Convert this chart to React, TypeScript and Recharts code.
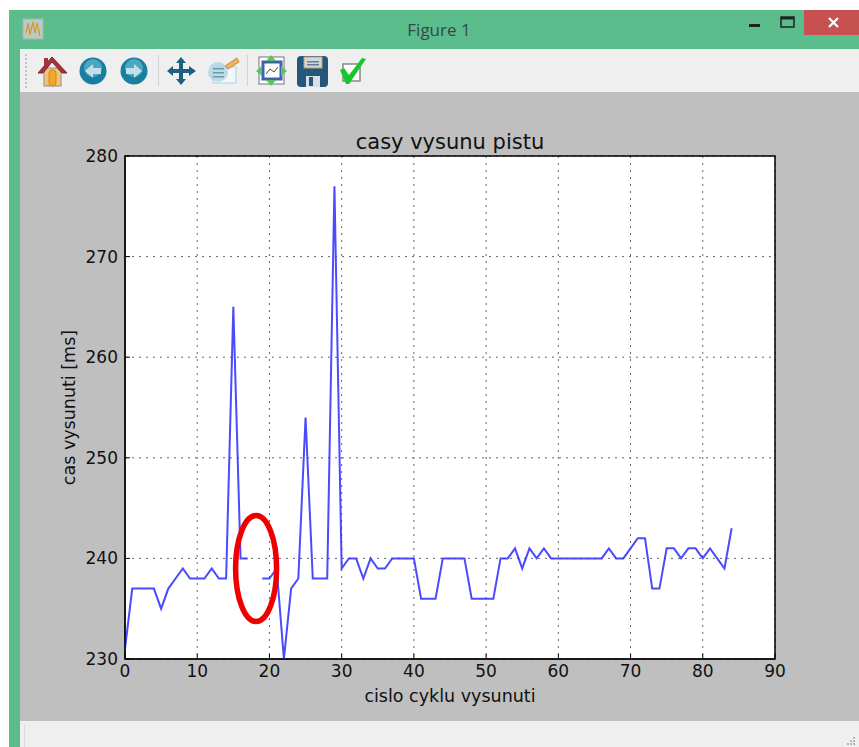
import { CartesianGrid, Label, Line, LineChart, ReferenceArea, ReferenceDot, XAxis, YAxis } from 'recharts';

const cycles = [
  0, 1, 2, 3, 4, 5, 6, 7, 8, 9, 10, 11, 12, 13, 14, 15, 16, 17, 18, 19, 20,
  21, 22, 23, 24, 25, 26, 27, 28, 29, 30, 31, 32, 33, 34, 35, 36, 37, 38, 39, 40,
  41, 42, 43, 44, 45, 46, 47, 48, 49, 50, 51, 52, 53, 54, 55, 56, 57, 58, 59, 60,
  61, 62, 63, 64, 65, 66, 67, 68, 69, 70, 71, 72, 73, 74, 75, 76, 77, 78, 79, 80,
  81, 82, 83, 84,
];
// index 18 is erased in the picture, so the line has a hole there
const times = [
  231, 237, 237, 237, 237, 235, 237, 238, 239, 238, 238, 238, 239, 238, 238, 265, 240, 240, null, 238, 238,
  239, 230, 237, 238, 254, 238, 238, 238, 277, 239, 240, 240, 238, 240, 239, 239, 240, 240, 240, 240,
  236, 236, 236, 240, 240, 240, 240, 236, 236, 236, 236, 240, 240, 241, 239, 241, 240, 241, 240, 240,
  240, 240, 240, 240, 240, 240, 241, 240, 240, 241, 242, 242, 237, 237, 241, 241, 240, 241, 241, 240,
  241, 240, 239, 243,
];
const xTicks = [0, 10, 20, 30, 40, 50, 60, 70, 80, 90];
const yTicks = [230, 240, 250, 260, 270, 280];

const data = cycles.map((c, i) => ({ cycle: c, time: times[i] }));

const FONT = '"DejaVu Sans", sans-serif';
const GREEN = '#5bbd8b';

function Box({ x, y, w, h, bg, children }: any) {
  return (
    <div style={{ position: 'absolute', left: x, top: y, width: w, height: h, background: bg }}>
      {children}
    </div>
  );
}

// toolbar icons, drawn by hand in window coordinates
function Toolbar() {
  return (
    <svg width={859} height={100} style={{ position: 'absolute', left: 0, top: 0 }}>
      {/* window icon */}
      <rect x={23} y={19} width={20} height={20} fill="#b9cbc4" stroke="#a5b5ae" />
      <path d="M26 33 L28 23 L30 35 L33 22 L35 33 L37 23 L40 36" fill="none" stroke="#d9952b" strokeWidth={1.2} />
      {/* grip */}
      {[54, 58, 62, 66, 70, 74, 78, 82, 86].map((y) => (
        <rect key={y} x={25} y={y} width={2} height={2} fill="#c4c4c4" />
      ))}
      {/* home */}
      <rect x={44} y={68} width={17} height={18} fill="#f3c27a" stroke="#8f8f8f" />
      <rect x={49} y={70} width={7} height={16} rx={3} fill="#f5a623" stroke="#c98a2a" />
      <path d="M38 73 L52 57 L67 73 L62 73 L52 62 L43 73 Z" fill="#a3333d" stroke="#7f2630" />
      <rect x={44} y={58} width={4} height={7} fill="#a3333d" />
      {/* back, forward */}
      <circle cx={93} cy={71} r={13.5} fill="#1a7f9e" />
      <circle cx={93} cy={68} r={9} fill="#4aa8c2" />
      <path d="M85 71 L93 64 L93 68 L101 68 L101 74 L93 74 L93 78 Z" fill="#c4dfe8" />
      <circle cx={134} cy={71} r={13.5} fill="#1a7f9e" />
      <circle cx={134} cy={68} r={9} fill="#4aa8c2" />
      <path d="M142 71 L134 64 L134 68 L126 68 L126 74 L134 74 L134 78 Z" fill="#c4dfe8" />
      <rect x={158} y={55} width={1} height={31} fill="#d2d2d2" />
      {/* pan */}
      <path d="M181 57 L186 63 L183 63 L183 69 L189 69 L189 66 L196 71 L189 76 L189 73 L183 73 L183 79 L186 79 L181 85 L176 79 L179 79 L179 73 L173 73 L173 76 L167 71 L173 66 L173 69 L179 69 L179 63 L176 63 Z" fill="#1f5f80" />
      {/* zoom rect */}
      <rect x={213} y={67} width={23} height={16} fill="#f2f8fa" stroke="#a8d3e0" />
      <circle cx={218} cy={72} r={10} fill="#a9d3e2" opacity={0.75} />
      <rect x={213} y={68} width={11} height={1.5} fill="#6f97a6" />
      <rect x={213} y={72} width={11} height={1.5} fill="#6f97a6" />
      <rect x={213} y={76} width={11} height={1.5} fill="#6f97a6" />
      <path d="M225 66 L237 58 L239 62 L228 69 Z" fill="#f0b060" stroke="#d08a3a" />
      <rect x={247} y={55} width={1} height={31} fill="#d2d2d2" />
      {/* subplots */}
      <rect x={259} y={57} width={25} height={27} fill="#fff" stroke="#777" />
      <rect x={263} y={62} width={18} height={17} fill="#fff" stroke="#3f62ad" strokeWidth={3} />
      <path d="M266 74 L270 69 L274 72 L278 67" fill="none" stroke="#444" />
      <path d="M271 55 L276 61 L266 61 Z M271 86 L276 80 L266 80 Z M256 71 L262 66 L262 76 Z M287 71 L281 66 L281 76 Z" fill="#57c45c" />
      {/* save */}
      <rect x={297} y={56} width={31} height={31} rx={4} fill="#23587c" />
      <rect x={304} y={57} width={18} height={11} fill="#cfd8de" stroke="#d49a5a" />
      <rect x={307} y={61} width={12} height={1.5} fill="#67808f" />
      <rect x={307} y={64} width={12} height={1.5} fill="#67808f" />
      <rect x={306} y={76} width={14} height={11} fill="#d8dfe3" />
      <rect x={309} y={77} width={4} height={9} fill="#23587c" />
      {/* edit check */}
      <rect x={343} y={64} width={17} height={17} fill="#fff" stroke="#888" strokeWidth={1.5} />
      <path d="M340 70 L344 68 L349 75 L362 58 L366 59 L349 84 L346 84 Z" fill="#14c82c" />
    </svg>
  );
}

export default function App() {
  return (
    <div style={{ position: 'absolute', left: 0, top: 0, width: 859, height: 747, background: '#fff', overflow: 'hidden', fontFamily: FONT }}>
      <Box x={9} y={10} w={850} h={737} bg={GREEN} />
      <Box x={20} y={49} w={839} h={43} bg="#efefef" />
      <Box x={20} y={92} w={839} h={629} bg="#bfbfbf" />
      <Box x={20} y={721} w={839} h={26} bg="#efefef" />
      <Box x={24} y={724} w={1} h={23} bg="#dcdcdc" />
      <Box x={804} y={10} w={55} h={25} bg="#c75050" />
      <div style={{ position: 'absolute', left: 380, top: 18, width: 118, textAlign: 'center', fontFamily: '"Open Sans", sans-serif', fontSize: 17, color: '#37474a' }}>
        Figure 1
      </div>
      <svg width={859} height={747} style={{ position: 'absolute', left: 0, top: 0 }}>
        <rect x={749} y={24} width={11} height={3} fill="#222" />
        <rect x={781} y={17} width={13} height={10} fill="none" stroke="#222" strokeWidth={1.5} />
        <rect x={781} y={17} width={13} height={2.5} fill="#222" />
        <path d="M829 18 L838 27 M838 18 L829 27" stroke="#fff" strokeWidth={2.2} />
        {/* resize grip */}
        <path d="M853 737 h2 v2 h-2 Z M850 740 h2 v2 h-2 Z M853 740 h2 v2 h-2 Z M847 743 h2 v2 h-2 Z M850 743 h2 v2 h-2 Z M853 743 h2 v2 h-2 Z" fill="#b5b5b5" />
      </svg>
      <Toolbar />
      <div style={{ position: 'absolute', left: 0, top: 0 }}>
        <LineChart width={859} height={747} data={data} margin={{ top: 156, right: 84, bottom: 48, left: 65 }}>
          <CartesianGrid
            fill="#fff"
            stroke="#666"
            strokeDasharray="2 5"
            horizontalValues={yTicks}
            verticalValues={xTicks}
          />
          <XAxis
            dataKey="cycle"
            type="number"
            domain={[0, 90]}
            ticks={xTicks}
            interval={0}
            height={40}
            stroke="#000"
            tickSize={-5}
            tickMargin={11}
            tick={{ fontSize: 17, fill: '#111', fontFamily: FONT }}
          >
            <Label value="cislo cyklu vysunuti" position="bottom" offset={-9} style={{ fontSize: 17.5, fill: '#111', fontFamily: FONT }} />
          </XAxis>
          <YAxis
            type="number"
            domain={[230, 280]}
            ticks={yTicks}
            interval={0}
            width={60}
            stroke="#000"
            tickSize={-5}
            tickMargin={12}
            tick={{ fontSize: 17, fill: '#111', fontFamily: FONT }}
          >
            <Label value="cas vysunuti [ms]" angle={-90} position="left" offset={-4} style={{ fontSize: 17.5, fill: '#111', fontFamily: FONT, textAnchor: 'middle' }} />
          </YAxis>
          <ReferenceArea x1={0} x2={90} y1={230} y2={280} fill="none" stroke="#000" strokeWidth={1.5} ifOverflow="visible">
            <Label value="casy vysunu pistu" position="top" offset={7} style={{ fontSize: 21, fill: '#111', fontFamily: FONT }} />
          </ReferenceArea>
          <Line
            dataKey="time"
            type="linear"
            stroke="#2a2aff"
            strokeWidth={2}
            strokeOpacity={0.85}
            dot={false}
            connectNulls={false}
            isAnimationActive={false}
          />
          <ReferenceDot
            x={18.15}
            y={239}
            ifOverflow="visible"
            shape={(p: any) => (
              <ellipse cx={p.cx} cy={p.cy} rx={20.5} ry={53} fill="none" stroke="#ee0000" strokeWidth={5.5} />
            )}
          />
        </LineChart>
      </div>
    </div>
  );
}
